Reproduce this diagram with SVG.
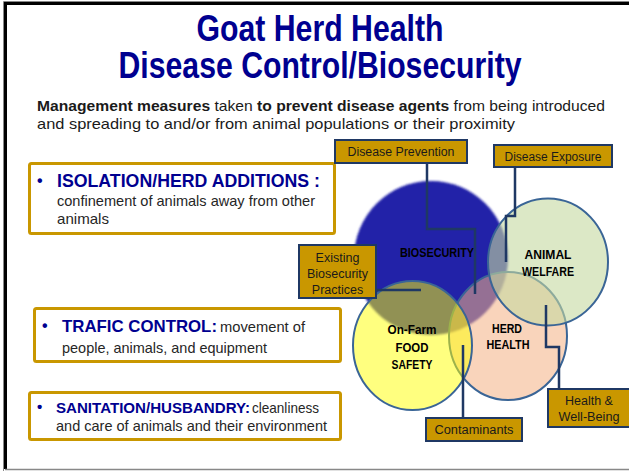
<svg xmlns="http://www.w3.org/2000/svg" width="629" height="471" viewBox="0 0 629 471">
<style>
.title{font-family:"Liberation Sans",Arial,sans-serif;font-weight:bold;font-size:37px;fill:#000090;text-anchor:middle}
.sub{font-family:"Liberation Sans",Arial,sans-serif;font-size:15px;fill:#1a1a1a}
.b{font-weight:bold}
.head{font-family:"Liberation Sans",Arial,sans-serif;font-weight:bold;fill:#000090}
.body{font-family:"Liberation Sans",Arial,sans-serif;font-size:14.5px;fill:#262626}
.lbox{fill:#fff;stroke:#C99700;stroke-width:3}
.tag{fill:#C99700;stroke:#1F3864;stroke-width:2}
.tagt{font-family:"Liberation Sans",Arial,sans-serif;font-size:12.5px;fill:#1a1a1a;text-anchor:middle}
.ct{font-family:"Liberation Sans",Arial,sans-serif;font-weight:bold;font-size:13.5px;fill:#000;text-anchor:middle}
.conn{fill:none;stroke:#1F3864;stroke-width:2.5}
.ring{stroke:#3A6596;stroke-width:2}
</style>
<defs>
<filter id="soft" x="-10%" y="-10%" width="120%" height="120%"><feGaussianBlur stdDeviation="1.3"/></filter>
</defs>
<rect x="0" y="0" width="629" height="471" fill="#fff"/>
<g id="frame">
<path d="M3.5,471 V1.5 H629" fill="none" stroke="#888" stroke-width="1"/>
<path d="M5.5,469 V3.5 H629" fill="none" stroke="#000" stroke-width="3"/>
<path d="M5,469.5 H629" fill="none" stroke="#888" stroke-width="1.5"/>
</g>
<g id="title">
<text class="title" x="320" y="41" textLength="247" lengthAdjust="spacingAndGlyphs">Goat Herd Health</text>
<text class="title" x="320" y="78" textLength="403" lengthAdjust="spacingAndGlyphs">Disease Control/Biosecurity</text>
</g>
<g id="subtitle">
<text class="sub" x="37" y="111" textLength="568" lengthAdjust="spacingAndGlyphs"><tspan class="b">Management measures</tspan>  taken <tspan class="b">to prevent disease agents</tspan> from being introduced</text>
<text class="sub" x="37" y="129" textLength="478" lengthAdjust="spacingAndGlyphs">and spreading to and/or from animal populations or their proximity</text>
</g>
<g id="isolation">
<rect class="lbox" x="29.5" y="163.5" width="305" height="70" rx="2"/>
<text class="head" x="37" y="186" font-size="16">•</text>
<text class="head" x="57" y="187" font-size="17.5" textLength="263" lengthAdjust="spacingAndGlyphs">ISOLATION/HERD ADDITIONS :</text>
<text class="body" x="57" y="206" textLength="258" lengthAdjust="spacingAndGlyphs">confinement of animals away from other</text>
<text class="body" x="57" y="224" textLength="52" lengthAdjust="spacingAndGlyphs">animals</text>
</g>
<g id="trafic">
<rect class="lbox" x="34.5" y="308.5" width="306" height="53" rx="2"/>
<text class="head" x="42" y="331" font-size="16">•</text>
<text class="head" x="62" y="332" font-size="16.5" textLength="155" lengthAdjust="spacingAndGlyphs">TRAFIC CONTROL:</text>
<text class="body" x="220" y="332" textLength="85" lengthAdjust="spacingAndGlyphs">movement of</text>
<text class="body" x="62" y="353" textLength="205" lengthAdjust="spacingAndGlyphs">people, animals, and equipment</text>
</g>
<g id="sanitation">
<rect class="lbox" x="29.5" y="392.5" width="311" height="47" rx="2"/>
<text class="head" x="37" y="412" font-size="15">•</text>
<text class="head" x="56" y="413" font-size="15" textLength="194" lengthAdjust="spacingAndGlyphs">SANITATION/HUSBANDRY:</text>
<text class="body" x="252" y="413" textLength="67" lengthAdjust="spacingAndGlyphs">cleanliness</text>
<text class="body" x="56" y="431" textLength="271" lengthAdjust="spacingAndGlyphs">and care of animals and their environment</text>
</g>
<g id="biosecurity">
<circle cx="431" cy="258" r="77" fill="#2020A8" filter="url(#soft)"/>
</g>
<g id="herd-health">
<ellipse class="ring" cx="508" cy="336" rx="59" ry="64" fill="#F4B183" fill-opacity="0.55"/>
</g>
<g id="food-safety">
<ellipse class="ring" cx="412.5" cy="345.5" rx="59.5" ry="64.5" fill="#FFFF00" fill-opacity="0.5"/>
</g>
<g id="animal-welfare">
<ellipse class="ring" cx="548" cy="262" rx="60" ry="63.5" fill="#C5D9A0" fill-opacity="0.6"/>
</g>
<g id="circle-labels">
<text class="ct" x="437" y="257" textLength="74" lengthAdjust="spacingAndGlyphs">BIOSECURITY</text>
<text class="ct" x="548" y="259" textLength="47" lengthAdjust="spacingAndGlyphs">ANIMAL</text>
<text class="ct" x="548" y="276" textLength="52" lengthAdjust="spacingAndGlyphs">WELFARE</text>
<text class="ct" x="412" y="334" textLength="49" lengthAdjust="spacingAndGlyphs">On-Farm</text>
<text class="ct" x="412" y="352" textLength="33" lengthAdjust="spacingAndGlyphs">FOOD</text>
<text class="ct" x="412" y="369" textLength="41" lengthAdjust="spacingAndGlyphs">SAFETY</text>
<text class="ct" x="507" y="333" font-size="11.5" textLength="30" lengthAdjust="spacingAndGlyphs">HERD</text>
<text class="ct" x="508" y="349" textLength="43" lengthAdjust="spacingAndGlyphs">HEALTH</text>
</g>
<g id="connectors">
<path class="conn" d="M427,163 V229 H475 V294"/>
<path class="conn" d="M515,167 V216 H506 V262"/>
<path class="conn" d="M376,290 H421"/>
<path class="conn" d="M463,345 V418"/>
<path class="conn" d="M546,305 V347 H559 V389"/>
</g>
<g id="disease-prevention">
<rect class="tag" x="335" y="140" width="132" height="23"/>
<text class="tagt" x="401" y="156" textLength="107" lengthAdjust="spacingAndGlyphs">Disease Prevention</text>
</g>
<g id="disease-exposure">
<rect class="tag" x="494" y="145" width="118" height="22"/>
<text class="tagt" x="553" y="161" textLength="97" lengthAdjust="spacingAndGlyphs">Disease Exposure</text>
</g>
<g id="existing-practices">
<rect class="tag" x="299" y="245" width="77" height="53"/>
<text class="tagt" x="337.5" y="262">Existing</text>
<text class="tagt" x="337.5" y="278">Biosecurity</text>
<text class="tagt" x="337.5" y="294">Practices</text>
</g>
<g id="contaminants">
<rect class="tag" x="426" y="418" width="96" height="23"/>
<text class="tagt" x="474" y="434" textLength="79" lengthAdjust="spacingAndGlyphs">Contaminants</text>
</g>
<g id="health-wellbeing">
<rect class="tag" x="548" y="389" width="82" height="38"/>
<text class="tagt" x="589" y="405">Health &amp;</text>
<text class="tagt" x="589" y="421" textLength="61" lengthAdjust="spacingAndGlyphs">Well-Being</text>
</g>
</svg>
